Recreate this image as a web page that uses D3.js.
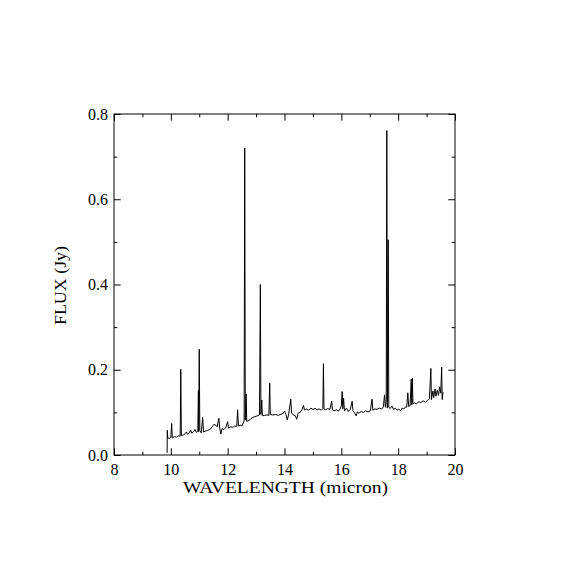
<!DOCTYPE html>
<html>
<head>
<meta charset="utf-8">
<script src="https://cdn.jsdelivr.net/npm/d3@7"></script>
<style>
  body { margin: 0; background: #fff; }
  text { font-family: "Liberation Serif", "DejaVu Serif", serif; fill: #000; }
</style>
</head>
<body>
<svg id="chart" width="570" height="570"></svg>
<script>
// Spectrum: wavelength (micron) and flux (Jy)
const wavelength = [
  9.87, 9.875, 9.89, 9.95, 10.00, 10.03, 10.05, 10.12, 10.20, 10.28,
  10.33, 10.35, 10.37, 10.45, 10.50, 10.55, 10.58, 10.65, 10.70, 10.74,
  10.80, 10.85, 10.90, 10.95, 10.97, 10.98, 11.00, 11.02, 11.07, 11.12,
  11.15, 11.22, 11.30, 11.38, 11.45, 11.52, 11.58, 11.63, 11.69, 11.72,
  11.76, 11.80, 11.87, 11.93, 12.00, 12.03, 12.10, 12.18, 12.25, 12.32,
  12.35, 12.38, 12.45, 12.50, 12.55, 12.58, 12.60, 12.62, 12.65, 12.67,
  12.72, 12.80, 12.88, 12.95, 13.05, 13.12, 13.15, 13.17, 13.20, 13.22,
  13.30, 13.38, 13.45, 13.48, 13.50, 13.58, 13.68, 13.78, 13.88, 13.95,
  14.00, 14.05, 14.10, 14.15, 14.22, 14.25, 14.32, 14.38, 14.43, 14.48,
  14.55, 14.62, 14.67, 14.70, 14.78, 14.85, 14.93, 15.00, 15.08, 15.15,
  15.22, 15.30, 15.35, 15.37, 15.39, 15.45, 15.52, 15.60, 15.66, 15.69,
  15.75, 15.83, 15.90, 15.96, 16.00, 16.03, 16.05, 16.08, 16.11, 16.18,
  16.25, 16.32, 16.38, 16.41, 16.47, 16.52, 16.56, 16.62, 16.70, 16.78,
  16.86, 16.94, 17.02, 17.08, 17.11, 17.18, 17.26, 17.34, 17.42, 17.48,
  17.52, 17.55, 17.58, 17.60, 17.62, 17.65, 17.67, 17.72, 17.78, 17.84,
  17.90, 17.96, 18.02, 18.08, 18.14, 18.20, 18.26, 18.30, 18.34, 18.37,
  18.42, 18.46, 18.48, 18.50, 18.52, 18.58, 18.65, 18.72, 18.80, 18.88,
  18.96, 19.04, 19.10, 19.15, 19.17, 19.22, 19.25, 19.30, 19.33, 19.38,
  19.42, 19.46, 19.50, 19.53, 19.55, 19.58
];
const flux = [
  0.005, 0.058, 0.040, 0.039, 0.041, 0.074, 0.040, 0.043, 0.042, 0.045,
  0.044, 0.201, 0.046, 0.047, 0.050, 0.054, 0.049, 0.052, 0.058, 0.051,
  0.055, 0.060, 0.053, 0.056, 0.151, 0.055, 0.248, 0.057, 0.052, 0.088,
  0.054, 0.056, 0.058, 0.060, 0.066, 0.072, 0.070, 0.066, 0.086, 0.063,
  0.049, 0.062, 0.060, 0.064, 0.078, 0.063, 0.066, 0.065, 0.068, 0.067,
  0.106, 0.068, 0.070, 0.068, 0.075, 0.080, 0.720, 0.082, 0.143, 0.079,
  0.080, 0.084, 0.088, 0.090, 0.092, 0.094, 0.400, 0.095, 0.129, 0.092,
  0.093, 0.094, 0.093, 0.169, 0.095, 0.094, 0.095, 0.093, 0.096, 0.097,
  0.103, 0.095, 0.082, 0.097, 0.131, 0.098, 0.094, 0.092, 0.084, 0.098,
  0.100, 0.107, 0.116, 0.106, 0.108, 0.105, 0.110, 0.107, 0.109, 0.106,
  0.108, 0.105, 0.109, 0.214, 0.108, 0.106, 0.109, 0.107, 0.126, 0.106,
  0.104, 0.106, 0.103, 0.108, 0.116, 0.149, 0.108, 0.133, 0.103, 0.110,
  0.102, 0.108, 0.126, 0.104, 0.098, 0.092, 0.101, 0.098, 0.102, 0.100,
  0.104, 0.101, 0.104, 0.131, 0.105, 0.108, 0.107, 0.110, 0.108, 0.113,
  0.141, 0.112, 0.125, 0.761, 0.110, 0.505, 0.112, 0.109, 0.115, 0.107,
  0.110, 0.105, 0.108, 0.104, 0.110, 0.108, 0.113, 0.112, 0.146, 0.114,
  0.116, 0.178, 0.118, 0.180, 0.120, 0.122, 0.120, 0.125, 0.123, 0.127,
  0.124, 0.128, 0.132, 0.203, 0.130, 0.150, 0.135, 0.155, 0.138, 0.152,
  0.140, 0.160, 0.145, 0.206, 0.130, 0.148
];

const xTicks = [8, 10, 12, 14, 16, 18, 20];
const yTicks = [0.0, 0.2, 0.4, 0.6, 0.8];

const d3 = window.d3;
const margin = {top: 114, right: 115, bottom: 115, left: 114};
const width = 570;
const height = 570;

const x = d3.scaleLinear().domain([8, 20])
    .range([margin.left, width - margin.right]);
const y = d3.scaleLinear().domain([0, 0.8])
    .range([height - margin.bottom, margin.top]);

const svg = d3.select('#chart');

// Frame
svg.append('rect')
    .attr('x', x(8)).attr('y', y(0.8))
    .attr('width', x(20) - x(8)).attr('height', y(0) - y(0.8))
    .attr('fill', 'none').attr('stroke', '#000').attr('stroke-width', 1);

// Major ticks point inward, labels only on bottom and left
const major = 6.7;
const minor = 3.3;
const xMinor = d3.range(9, 20, 2);
const yMinor = d3.range(0.1, 0.8, 0.2);

const styleAxis = (g) => {
  g.select('.domain').remove();
  g.selectAll('line').attr('stroke', '#000').attr('stroke-width', 1);
  g.selectAll('text').style('font-size', '16px')
      .style('font-family', '"Liberation Serif", serif');
};

svg.append('g')
    .attr('transform', `translate(0,${y(0)})`)
    .call(d3.axisBottom(x).tickValues(xTicks).tickSize(-major)
        .tickPadding(9).tickFormat(d3.format('d')))
    .call(styleAxis);
svg.append('g')
    .attr('transform', `translate(0,${y(0)})`)
    .call(d3.axisBottom(x).tickValues(xMinor).tickSize(-minor).tickFormat(''))
    .call(styleAxis);
svg.append('g')
    .attr('transform', `translate(0,${y(0.8)})`)
    .call(d3.axisTop(x).tickValues(xTicks).tickSize(-major).tickFormat(''))
    .call(styleAxis);
svg.append('g')
    .attr('transform', `translate(0,${y(0.8)})`)
    .call(d3.axisTop(x).tickValues(xMinor).tickSize(-minor).tickFormat(''))
    .call(styleAxis);

svg.append('g')
    .attr('transform', `translate(${x(8)},0)`)
    .call(d3.axisLeft(y).tickValues(yTicks).tickSize(-major)
        .tickPadding(6).tickFormat(d3.format('.1f')))
    .call(styleAxis);
svg.append('g')
    .attr('transform', `translate(${x(8)},0)`)
    .call(d3.axisLeft(y).tickValues(yMinor).tickSize(-minor).tickFormat(''))
    .call(styleAxis);
svg.append('g')
    .attr('transform', `translate(${x(20)},0)`)
    .call(d3.axisRight(y).tickValues(yTicks).tickSize(-major).tickFormat(''))
    .call(styleAxis);
svg.append('g')
    .attr('transform', `translate(${x(20)},0)`)
    .call(d3.axisRight(y).tickValues(yMinor).tickSize(-minor).tickFormat(''))
    .call(styleAxis);

// Spectrum
const line = d3.line()
    .x((d, i) => x(wavelength[i]))
    .y((d) => y(d));

svg.append('path')
    .datum(flux)
    .attr('d', line)
    .attr('fill', 'none')
    .attr('stroke', '#000')
    .attr('stroke-width', 1)
    .attr('stroke-linejoin', 'bevel');

// Axis titles
svg.append('text')
    .attr('x', 183).attr('y', 493)
    .attr('textLength', 205).attr('lengthAdjust', 'spacingAndGlyphs')
    .style('font-size', '16px')
    .text('WAVELENGTH (micron)');

svg.append('text')
    .attr('transform', 'translate(66,325) rotate(-90)')
    .attr('textLength', 79).attr('lengthAdjust', 'spacingAndGlyphs')
    .style('font-size', '16px')
    .text('FLUX (Jy)');
</script>
</body>
</html>
